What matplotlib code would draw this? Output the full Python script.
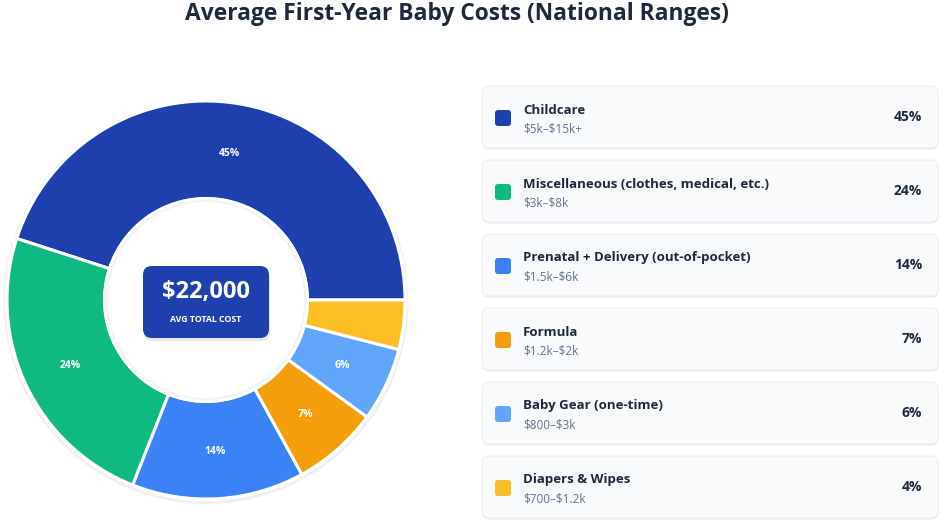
"""Average first-year baby costs: donut + side cards."""

import matplotlib
matplotlib.use("Agg")
import matplotlib.pyplot as plt
import numpy as np
from matplotlib.patches import FancyBboxPatch, Circle

plt.rcParams["font.family"] = ["Open Sans", "DejaVu Sans"]
plt.rcParams["text.parse_math"] = False

CATEGORIES = ["Childcare", "Miscellaneous (clothes, medical, etc.)",
              "Prenatal + Delivery (out-of-pocket)", "Formula",
              "Baby Gear (one-time)", "Diapers & Wipes"]
SHARES = [45, 24, 14, 7, 6, 4]
RANGES = ["$5k–$15k+", "$3k–$8k", "$1.5k–$6k", "$1.2k–$2k",
          "$800–$3k", "$700–$1.2k"]
COLORS = ["#1e40af", "#10b981", "#3b82f6", "#f59e0b", "#60a5fa", "#fbbf24"]
TOTAL = "$22,000"

INK, INK2 = "#1e293b", "#64748b"
W, H = 946, 527

fig = plt.figure(figsize=(W / 100, H / 100), dpi=100)
fig.patch.set_facecolor("white")
ax = fig.add_axes([0, 0, 1, 1])


def Y(y):
    return H - y


# donut
cx, cy, r = 206, Y(300), 199
ax.add_patch(Circle((cx, cy - 1.5), r + 3.5, facecolor="#eef0f3",
                    edgecolor="none", zorder=0))
ax.add_patch(Circle((cx, cy), r + 2, facecolor="white", edgecolor="none",
                    zorder=0.5))
wedges, _ = ax.pie(SHARES, colors=COLORS, startangle=0, counterclock=True,
                   center=(cx, cy), radius=r,
                   wedgeprops=dict(width=r * 0.49, edgecolor="white",
                                   linewidth=2.2))
for w in wedges:
    w.set_zorder(1)
ang0 = 0
for s in SHARES:
    mid = np.deg2rad(ang0 + s * 3.6 / 2)
    ang0 += s * 3.6
    if s < 5:
        continue
    rr = r * 0.755
    ax.text(cx + rr * np.cos(mid), cy + rr * np.sin(mid) - 2, f"{s}%",
            ha="center", va="center", color="white", fontsize=7.5,
            fontweight="bold", zorder=3)

# inner edge: white rim with faint shadow
ax.add_patch(Circle((cx, cy), r * 0.51 - 2, facecolor="none",
                    edgecolor="#f1f3f6", linewidth=2, zorder=2))
ax.add_patch(Circle((cx, cy), r * 0.51, facecolor="none",
                    edgecolor="white", linewidth=2, zorder=2))

ax.set_xlim(0, W)
ax.set_ylim(0, H)
ax.set_aspect("equal")
ax.axis("off")

# centre badge
bx0, bx1, by0, by1 = 143, 269, 266, 338
ax.add_patch(FancyBboxPatch((bx0 + 1, Y(by1) - 3), bx1 - bx0, by1 - by0,
                            boxstyle="round,pad=0,rounding_size=9",
                            facecolor="#cbd2dc", edgecolor="none", alpha=0.5,
                            zorder=3))
ax.add_patch(FancyBboxPatch((bx0, Y(by1)), bx1 - bx0, by1 - by0,
                            boxstyle="round,pad=0,rounding_size=9",
                            facecolor="#1e40af", edgecolor="none", zorder=4))
ax.text((bx0 + bx1) / 2, Y(292), TOTAL, ha="center", va="center",
        color="white", fontsize=17, fontweight="bold", zorder=5)
ax.text((bx0 + bx1) / 2, Y(320), "AVG TOTAL COST", ha="center", va="center",
        color="white", fontsize=6.3, fontweight="bold", zorder=5)

# cards
cx0, cx1, ch = 482, 938, 62
for i, (name, share, rng, col) in enumerate(zip(CATEGORIES, SHARES, RANGES,
                                                 COLORS)):
    top = 86 + i * 74
    ax.add_patch(FancyBboxPatch((cx0 + 0.5, Y(top + ch) - 1.5), cx1 - cx0, ch,
                                boxstyle="round,pad=0,rounding_size=7",
                                facecolor="#e6e9ee", edgecolor="none",
                                zorder=1))
    ax.add_patch(FancyBboxPatch((cx0, Y(top + ch)), cx1 - cx0, ch,
                                boxstyle="round,pad=0,rounding_size=7",
                                facecolor="#f8fafc", edgecolor="#eceff3",
                                linewidth=0.8, zorder=2))
    ax.add_patch(FancyBboxPatch((495, Y(top + 40)), 16, 16,
                                boxstyle="round,pad=0,rounding_size=3",
                                facecolor=col, edgecolor="none", zorder=3))
    ax.text(523, Y(top + 24), name, ha="left", va="center", color=INK,
            fontsize=9.5, fontweight="bold", zorder=3)
    ax.text(523, Y(top + 43), rng, ha="left", va="center", color=INK2,
            fontsize=8.5, zorder=3)
    ax.text(922, Y(top + 31), f"{share}%", ha="right", va="center",
            color=INK, fontsize=10, fontweight="bold", zorder=3)

fig.text(457 / W, 1 - 14 / H, "Average First-Year Baby Costs (National Ranges)",
         ha="center", va="center", color=INK, fontsize=16.4,
         fontweight="bold")

fig.savefig("out.png", dpi=100, facecolor="white")
